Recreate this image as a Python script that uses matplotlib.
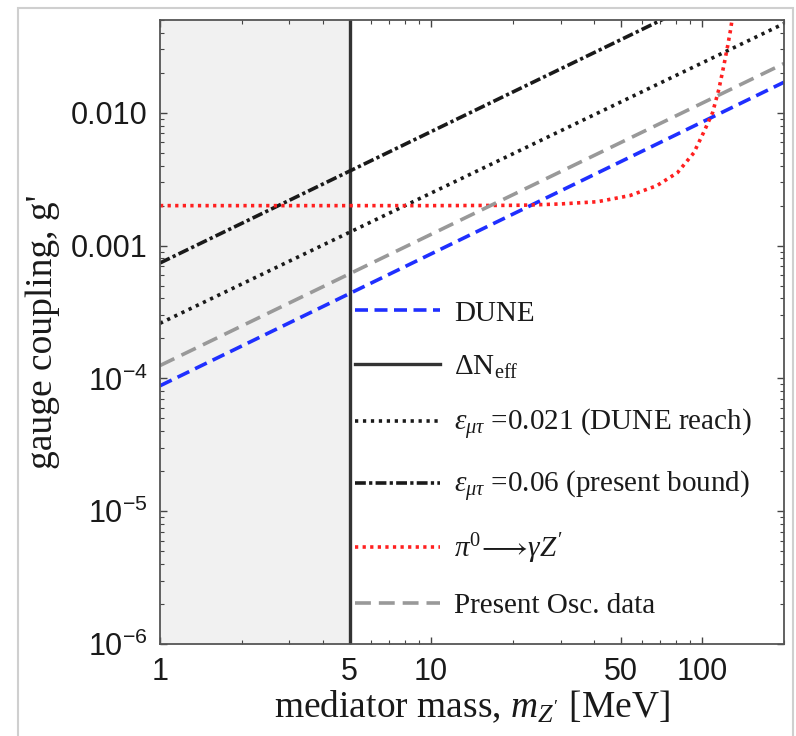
import matplotlib
matplotlib.use("Agg")
import matplotlib.pyplot as plt
from matplotlib.patches import Rectangle
from matplotlib.ticker import FixedLocator, FixedFormatter, LogLocator, NullFormatter

plt.rcParams['font.family'] = 'Liberation Serif'
plt.rcParams['mathtext.fontset'] = 'custom'
plt.rcParams['mathtext.rm'] = 'Liberation Serif'
plt.rcParams['mathtext.it'] = 'Liberation Serif:italic'
plt.rcParams['mathtext.sf'] = 'Liberation Sans'

# mass endpoints for the straight (g ~ m) bounds
mass_ends = [1, 200]
dune_g = [8.8e-5, 0.0170]
osc_g = [1.25e-4, 0.0235]
eps021_g = [2.6e-4, 0.047]
eps06_g = [7.4e-4, 0.14]

# pi0 -> gamma Z' bound
pi_mass = [1, 5, 10, 20, 23, 30, 41, 54, 68, 81, 93, 101, 109, 115, 120, 124, 127, 129]
pi_g = [0.002, 0.002, 0.002, 0.00201, 0.00202, 0.00206, 0.00214, 0.00238, 0.00283,
        0.00355, 0.0050, 0.0071, 0.010, 0.015, 0.0227, 0.032, 0.042, 0.052]

neff_mass = 5
xticks = [1, 5, 10, 50, 100]
yticks = [1e-6, 1e-5, 1e-4, 1e-3, 1e-2]
ytick_labels = [r'$\mathsf{10^{-6}}$', r'$\mathsf{10^{-5}}$', r'$\mathsf{10^{-4}}$', '0.001', '0.010']

fig = plt.figure(figsize=(7.96, 7.36), dpi=100)
# grey panel frame
fig.patches.append(Rectangle((18 / 796, -0.05), 775 / 796, 1.05 - 8 / 736,
                             transform=fig.transFigure, fill=False,
                             edgecolor='#cfcfcf', linewidth=1.5))
ax = fig.add_axes([160 / 796, 1 - 644 / 736, 624 / 796, 624 / 736])

ax.axvspan(1, neff_mass, color='#f1f1f1', zorder=0)

ax.plot(mass_ends, dune_g, color='#1f2fff', lw=2.6, dashes=(3.6, 1.8), label='DUNE')
ax.axvline(neff_mass, color='#333333', lw=2.4, label=r'$\Delta\mathrm{N}_{\mathrm{eff}}$')
ax.plot(mass_ends, eps021_g, color='#1a1a1a', lw=2.6, dashes=(0.9, 1.3),
        label=r'$\varepsilon_{\mu\tau}$ =0.021 (DUNE reach)')
ax.plot(mass_ends, eps06_g, color='#1a1a1a', lw=2.6, dashes=(3, 0.9, 0.9, 0.9),
        label=r'$\varepsilon_{\mu\tau}$ =0.06 (present bound)')
ax.plot(pi_mass, pi_g, color='#ff2020', lw=2.6, dashes=(0.9, 1.2),
        label=r"$\pi^0\!\longrightarrow\!\gamma Z'$")
ax.plot(mass_ends, osc_g, color='#999999', lw=2.6, dashes=(4.4, 2.2), label='Present Osc. data')

ax.set_xscale('log')
ax.set_yscale('log')
ax.set_xlim(1, 200)
ax.set_ylim(1e-6, 0.05)

ax.xaxis.set_major_locator(FixedLocator(xticks))
ax.xaxis.set_major_formatter(FixedFormatter([str(t) for t in xticks]))
ax.xaxis.set_minor_locator(LogLocator(base=10, subs=range(2, 10)))
ax.xaxis.set_minor_formatter(NullFormatter())
ax.yaxis.set_major_locator(FixedLocator(yticks))
ax.yaxis.set_major_formatter(FixedFormatter(ytick_labels))
ax.yaxis.set_minor_locator(LogLocator(base=10, subs=range(2, 10)))
ax.yaxis.set_minor_formatter(NullFormatter())

ax.tick_params(which='both', direction='in', top=True, right=True, colors='#444444')
ax.tick_params(which='major', length=5, width=1.0, labelsize=22, pad=9, labelcolor='#1a1a1a')
ax.tick_params(which='minor', length=3, width=0.8)
for lab in ax.get_xticklabels() + ax.get_yticklabels():
    lab.set_fontfamily('Liberation Sans')
for s in ax.spines.values():
    s.set_color('#555555')
    s.set_linewidth(1.3)

ax.set_xlabel(r"mediator mass, $m_{Z'}$ [MeV]", fontsize=27, color='#1a1a1a')
ax.set_ylabel("gauge coupling, g'", fontsize=27, color='#1a1a1a')
ax.xaxis.set_label_coords(0.5, -0.072)
ax.yaxis.set_label_coords(-0.160, 0.5)

ax.legend(loc='upper left', bbox_to_anchor=(0.3125, 0.551), frameon=False, fontsize=21,
          handlelength=2.9, handletextpad=0.5, labelspacing=0.92, borderpad=0, borderaxespad=0,
          labelcolor='#1a1a1a')

fig.savefig('out.png', dpi=100)
